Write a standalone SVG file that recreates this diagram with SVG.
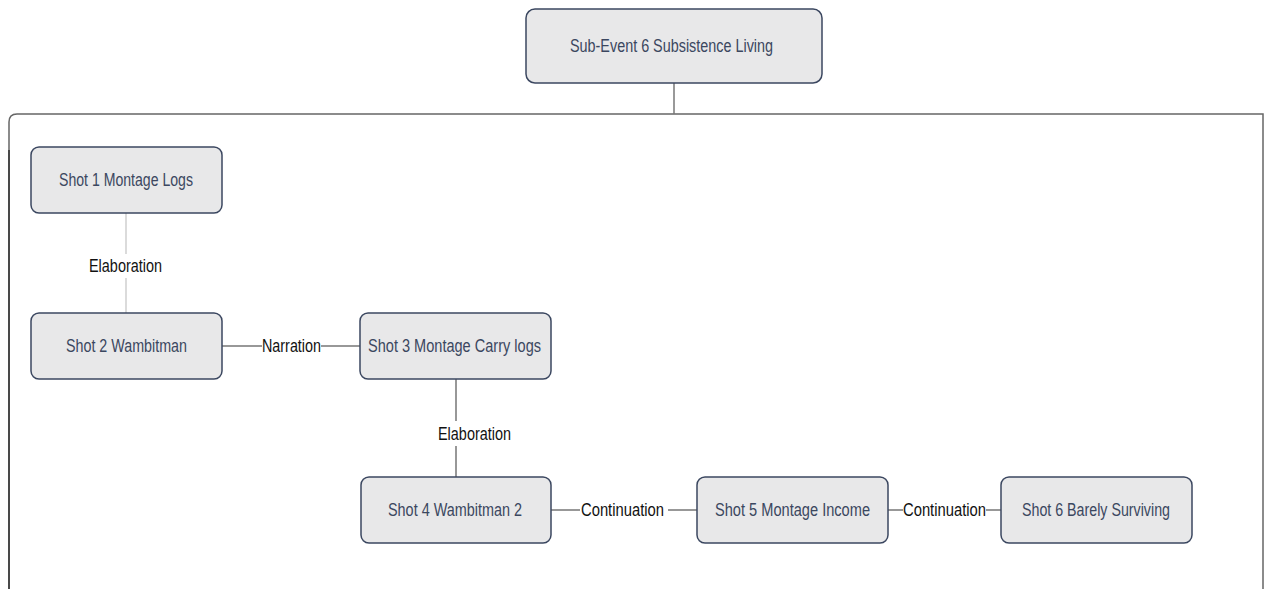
<svg xmlns="http://www.w3.org/2000/svg" width="1270" height="589" viewBox="0 0 1270 589">
<style>
.node rect{fill:#e8e8e9;stroke:#3b4760;stroke-width:1.5}
.node text{font-family:"Liberation Sans",Arial,sans-serif;font-size:17.5px;fill:#3b4760;text-anchor:middle;dominant-baseline:central}
.lbl{font-family:"Liberation Sans",Arial,sans-serif;font-size:17.5px;fill:#111;text-anchor:middle;dominant-baseline:central}
.c{stroke:#777;stroke-width:1.5;fill:none}
.cl{stroke:#d0d0d0;stroke-width:1.5;fill:none}
</style>
<rect width="1270" height="589" fill="#fff"/>
<g id="container">
<path d="M9,589 V122 Q9,114 17,114 H1263 V589" fill="none" stroke="#666" stroke-width="1.5"/>
<path d="M9,589 V150" stroke="#333" stroke-width="1.5"/>
</g>
<g id="connectors">
<path class="c" d="M674,83 V114"/>
<path class="cl" d="M126,213 V254 M126,278 V313"/>
<path class="c" d="M222,346 H262 M321,346 H360"/>
<path class="c" d="M456,379 V421 M456,446 V477"/>
<path class="c" d="M551,510 H580 M668,510 H697"/>
<path class="c" d="M888,510 H903 M986,510 H1001"/>
<text class="lbl" x="125.5" y="266" textLength="73" lengthAdjust="spacingAndGlyphs">Elaboration</text>
<text class="lbl" x="291.5" y="346" textLength="59" lengthAdjust="spacingAndGlyphs">Narration</text>
<text class="lbl" x="474.5" y="434" textLength="73" lengthAdjust="spacingAndGlyphs">Elaboration</text>
<text class="lbl" x="622.5" y="510" textLength="83" lengthAdjust="spacingAndGlyphs">Continuation</text>
<text class="lbl" x="944.5" y="510" textLength="83" lengthAdjust="spacingAndGlyphs">Continuation</text>
</g>
<g id="n0" class="node"><rect x="526" y="9" width="296" height="74" rx="9"/><text x="671.5" y="46" textLength="203" lengthAdjust="spacingAndGlyphs">Sub-Event 6 Subsistence Living</text></g>
<g id="n1" class="node"><rect x="31" y="147" width="191" height="66" rx="8"/><text x="126" y="180" textLength="134" lengthAdjust="spacingAndGlyphs">Shot 1 Montage Logs</text></g>
<g id="n2" class="node"><rect x="31" y="313" width="191" height="66" rx="8"/><text x="126.5" y="346" textLength="121" lengthAdjust="spacingAndGlyphs">Shot 2 Wambitman</text></g>
<g id="n3" class="node"><rect x="360" y="313" width="191" height="66" rx="8"/><text x="454.5" y="346" textLength="173" lengthAdjust="spacingAndGlyphs">Shot 3 Montage Carry logs</text></g>
<g id="n4" class="node"><rect x="361" y="477" width="190" height="66" rx="8"/><text x="455" y="510" textLength="134" lengthAdjust="spacingAndGlyphs">Shot 4 Wambitman 2</text></g>
<g id="n5" class="node"><rect x="697" y="477" width="191" height="66" rx="8"/><text x="792.5" y="510" textLength="155" lengthAdjust="spacingAndGlyphs">Shot 5 Montage Income</text></g>
<g id="n6" class="node"><rect x="1001" y="477" width="191" height="66" rx="8"/><text x="1096" y="510" textLength="148" lengthAdjust="spacingAndGlyphs">Shot 6 Barely Surviving</text></g>
</svg>
